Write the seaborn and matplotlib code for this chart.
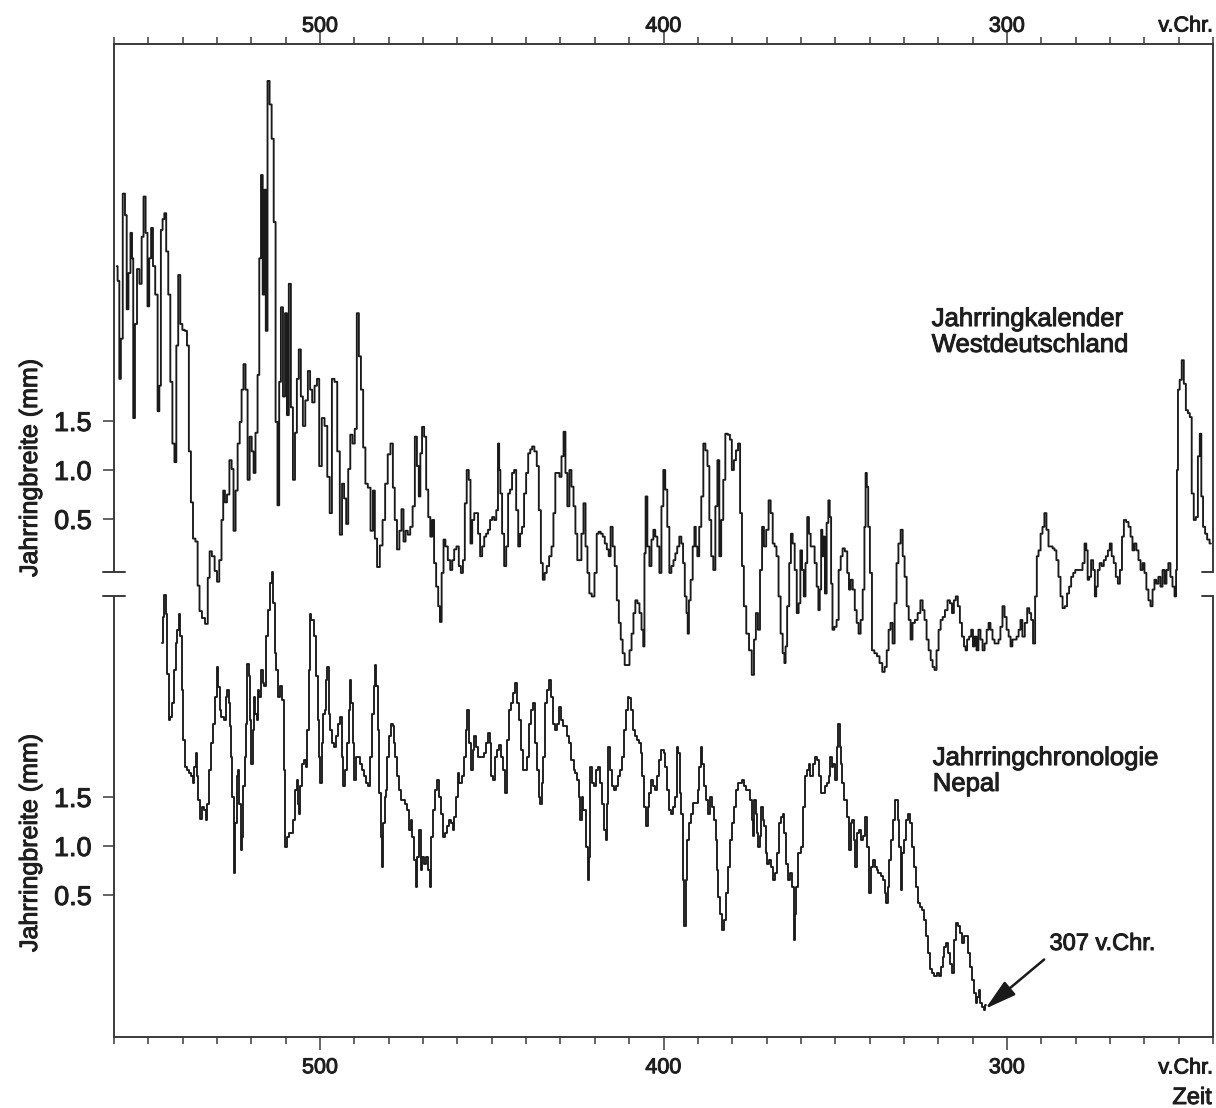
import numpy as np
import pandas as pd
import matplotlib
matplotlib.use("Agg")
import matplotlib.pyplot as plt
import matplotlib.transforms as mtransforms
import matplotlib.patheffects as pe
from matplotlib.lines import Line2D
import seaborn as sns

# ---------------- data ----------------
# Jahrringkalender Westdeutschland: year BC, ring width in mm (axis scale of the upper panel)
west_years = [
    559.2, 558.7, 558.2, 557.8, 557.1, 556.5, 556.1, 555.5, 554.9, 554.6, 554.2, 553.6, 553.0, 552.2,
    551.7, 551.1, 550.5, 550.0, 549.5, 548.9, 548.4, 547.6, 547.0, 546.6, 546.1, 545.6, 545.1, 544.5,
    543.9, 543.3, 542.7, 542.1, 541.6, 541.0, 540.4, 539.8, 539.0, 538.5, 537.9, 537.3, 536.7, 535.9,
    535.4, 534.8, 534.0, 533.0, 532.4, 531.9, 531.1, 530.3, 529.7, 529.0, 528.4, 528.0, 527.4, 526.8,
    526.0, 525.5, 524.9, 524.3, 523.7, 523.1, 522.6, 522.0, 521.4, 520.8, 520.2, 519.6, 519.1, 518.5,
    517.9, 517.5, 516.9, 516.5, 516.0, 515.6, 515.0, 514.4, 513.8, 513.2, 512.7, 512.1, 511.7, 511.1,
    510.5, 509.9, 509.4, 508.8, 508.2, 507.6, 507.0, 506.5, 505.9, 505.3, 504.7, 503.9, 503.2, 502.6,
    502.0, 501.2, 500.6, 499.9, 499.1, 498.3, 497.5, 496.9, 496.2, 495.4, 494.6, 493.9, 493.3, 492.7,
    492.1, 491.5, 490.9, 490.2, 489.6, 489.0, 488.4, 487.8, 487.1, 486.5, 485.7, 484.9, 484.3, 483.8,
    483.0, 482.2, 481.4, 480.7, 479.9, 479.1, 478.5, 478.0, 477.2, 476.6, 476.0, 475.4, 474.8, 474.1,
    473.4, 472.7, 472.1, 471.5, 471.0, 470.6, 470.0, 469.4, 468.8, 468.2, 467.6, 467.1, 466.5, 465.9,
    465.3, 464.9, 464.3, 463.8, 463.2, 462.4, 461.8, 461.2, 460.7, 459.9, 459.3, 458.7, 458.1, 457.6,
    457.0, 456.4, 456.0, 455.4, 454.8, 454.3, 453.7, 453.1, 452.5, 451.9, 451.4, 450.8, 450.2, 449.6,
    449.0, 448.4, 448.0, 447.7, 447.3, 446.7, 446.1, 445.5, 445.0, 444.4, 443.8, 443.2, 442.6, 442.0,
    441.5, 440.9, 440.3, 439.7, 439.1, 438.5, 438.0, 437.2, 436.6, 436.0, 435.4, 434.9, 434.3, 433.7,
    432.9, 432.3, 431.8, 431.2, 430.6, 430.0, 429.4, 428.8, 428.3, 427.7, 427.1, 426.5, 425.9, 425.4,
    424.8, 424.2, 423.6, 423.0, 422.4, 421.9, 421.3, 420.5, 419.7, 419.2, 418.6, 418.0, 417.4, 416.8,
    416.2, 415.7, 415.1, 414.5, 413.9, 413.3, 412.7, 412.2, 411.6, 411.0, 410.2, 409.6, 409.0, 408.5,
    407.9, 407.3, 406.7, 406.1, 405.7, 405.4, 405.0, 404.4, 403.8, 403.2, 402.7, 402.1, 401.5, 400.9,
    400.3, 399.8, 399.2, 398.6, 398.0, 397.4, 396.8, 396.3, 395.7, 395.1, 394.5, 394.1, 393.5, 393.1,
    392.8, 392.4, 391.8, 391.2, 390.8, 390.4, 389.9, 389.3, 388.7, 388.1, 387.5, 386.9, 386.4, 385.8,
    385.2, 384.6, 384.0, 383.5, 382.9, 382.3, 381.7, 380.9, 380.4, 379.8, 379.2, 378.6, 378.0, 377.4,
    376.9, 376.3, 375.5, 374.7, 373.9, 373.4, 372.8, 372.2, 371.6, 371.0, 370.5, 369.7, 369.1, 368.5,
    367.9, 367.4, 366.8, 366.2, 365.6, 365.0, 364.6, 364.3, 363.7, 363.1, 362.7, 362.1, 361.5, 360.9,
    360.4, 359.9, 359.4, 358.9, 358.4, 357.9, 357.4, 356.9, 356.3, 355.7, 355.1, 354.7, 354.3, 353.9,
    353.6, 353.2, 352.8, 352.2, 351.8, 351.4, 351.0, 350.6, 349.9, 349.3, 348.7, 348.1, 347.6, 346.8,
    346.2, 345.8, 345.2, 344.6, 344.0, 343.5, 342.9, 342.3, 341.7, 341.3, 341.0, 340.6, 340.2, 339.6,
    339.0, 338.2, 337.5, 336.7, 335.9, 335.3, 334.7, 334.2, 333.6, 333.0, 332.4, 331.9, 331.3, 330.6,
    330.1, 329.5, 328.9, 328.3, 327.8, 327.2, 326.4, 325.6, 324.8, 324.3, 323.7, 323.1, 322.5, 321.9,
    321.4, 320.8, 320.2, 319.6, 319.0, 318.4, 317.7, 316.9, 316.3, 315.7, 315.2, 314.6, 314.0, 313.4,
    312.8, 312.2, 311.9, 311.3, 310.7, 310.1, 309.7, 309.1, 308.6, 308.0, 307.4, 306.8, 306.2, 305.6,
    305.1, 304.5, 303.9, 303.3, 302.7, 302.2, 301.6, 301.0, 300.4, 299.8, 299.2, 298.7, 298.1, 297.5,
    296.9, 296.3, 295.8, 295.2, 294.4, 293.8, 293.2, 292.7, 292.1, 291.5, 291.1, 290.5, 289.9, 289.4,
    288.8, 288.2, 287.6, 287.0, 286.4, 285.9, 285.3, 284.7, 284.1, 283.5, 282.8, 282.2, 281.6, 281.0,
    280.4, 279.8, 279.1, 278.3, 277.7, 277.1, 276.7, 276.3, 275.8, 275.2, 274.6, 274.2, 273.8, 273.3,
    272.7, 272.1, 271.5, 270.9, 270.3, 269.8, 269.2, 268.6, 268.0, 267.4, 266.8, 266.2, 265.7, 264.9,
    264.3, 263.7, 263.2, 262.6, 262.0, 261.4, 260.8, 260.2, 259.7, 259.1, 258.5, 257.9, 257.3, 256.8,
    256.2, 255.6, 255.0, 254.4, 253.8, 253.3, 252.7, 252.1, 251.5, 250.9, 250.6, 250.4, 250.0, 249.4,
    248.8, 248.2, 247.6, 247.0, 246.5, 245.9, 245.3, 244.7, 244.1, 243.6, 243.2, 242.6, 242.0, 241.4,
    240.6,
]
west_mm = [
    3.08, 2.93, 1.93, 2.34, 3.82, 3.60, 2.64, 3.01, 3.42, 3.16, 1.53, 2.49, 3.05, 2.90,
    3.38, 3.79, 3.42, 2.67, 3.16, 3.47, 3.08, 2.79, 1.60, 1.86, 3.45, 3.56, 3.62, 3.23,
    2.79, 1.90, 1.27, 1.08, 2.27, 2.99, 2.49, 2.43, 2.42, 2.27, 1.19, 0.67, 0.30, 0.27,
    -0.18, -0.44, -0.51, -0.57, -0.10, 0.17, 0.12, -0.03, -0.14, 0.08, 0.49, 0.79, 0.67, 0.75,
    1.10, 1.01, 0.38, 0.79, 1.27, 1.49, 1.82, 2.08, 1.82, 0.90, 1.34, 1.19, 0.97, 1.38,
    1.97, 3.16, 4.01, 2.79, 3.86, 2.42, 4.97, 4.73, 4.38, 3.53, 1.49, 0.64, 1.90, 2.66,
    1.75, 2.60, 1.56, 2.90, 1.64, 0.90, 1.38, 1.93, 2.23, 1.75, 1.45, 1.71, 2.01, 1.82,
    1.69, 1.86, 1.93, 1.04, 1.53, 1.45, 0.93, 0.56, 1.93, 1.90, 1.19, 0.34, 0.86, 0.71,
    0.45, 1.01, 1.36, 1.27, 1.42, 2.60, 2.16, 1.82, 1.23, 0.86, 0.82, 0.38, 0.79, 0.30,
    0.01, 0.23, 0.49, 0.86, 1.16, 1.27, 0.82, 0.49, 0.19, 0.38, 0.60, 0.27, 0.38, 0.34,
    0.42, 0.63, 1.34, 1.04, 0.73, 1.17, 1.44, 1.34, 0.80, 0.52, 0.32, 0.49, 0.05, -0.19,
    -0.39, -0.55, -0.05, 0.29, 0.22, 0.08, -0.02, 0.08, 0.19, 0.22, 0.02, -0.05, 0.08, 0.66,
    1.00, 0.90, 0.25, 0.49, 0.56, 0.56, 0.35, 0.12, 0.22, 0.32, 0.35, 0.39, 0.49, 0.52,
    0.49, 0.59, 1.27, 1.00, 0.76, 0.35, 0.02, 0.22, 0.76, 0.80, 0.97, 1.00, 0.59, 0.22,
    0.35, 0.42, 0.76, 0.97, 1.17, 1.21, 1.24, 1.19, 1.04, 0.59, 0.05, -0.12, -0.05, 0.02,
    0.12, 0.22, 0.56, 0.97, 0.97, 0.93, 1.14, 1.39, 0.97, 0.63, 1.00, 0.83, 0.63, 0.35,
    0.08, 0.08, 0.35, 0.66, 0.22, -0.05, -0.26, -0.29, -0.05, 0.35, 0.37, 0.35, 0.32, 0.25,
    0.19, 0.12, 0.42, 0.22, 0.02, -0.33, -0.56, -0.73, -0.87, -0.99, -0.99, -0.84, -0.67, -0.46,
    -0.33, -0.36, -0.46, -0.63, -0.80, 0.15, 0.73, 0.22, 0.02, 0.29, 0.39, 0.32, 0.22, -0.05,
    0.63, 1.00, 0.80, 0.42, -0.05, 0.02, 0.08, 0.15, 0.22, 0.32, 0.25, 0.05, -0.29, -0.46,
    -0.67, -0.33, -0.12, 0.22, 0.42, 0.22, 0.12, 0.42, 0.73, 1.27, 1.20, 1.04, 0.49, 0.12,
    -0.02, 0.63, 1.10, 0.12, 0.49, 0.90, 1.37, 1.36, 1.31, 1.00, 1.10, 1.20, 1.27, 0.56,
    0.02, -0.39, -0.67, -0.84, -1.09, -0.73, -0.46, -0.63, -0.02, 0.42, 0.22, 0.39, 0.69, 0.56,
    0.25, 0.22, 0.12, -0.29, -0.67, -0.87, -0.97, -0.80, -0.39, 0.05, 0.35, 0.25, -0.02, -0.46,
    -0.36, 0.18, -0.02, -0.29, 0.05, 0.52, 0.35, 0.22, 0.22, 0.05, -0.19, -0.43, -0.22, 0.39,
    0.12, 0.32, -0.26, 0.46, 0.69, 0.52, -0.16, -0.63, -0.60, -0.53, -0.02, 0.12, 0.20, 0.17,
    -0.05, -0.22, -0.12, -0.22, -0.43, -0.56, -0.67, -0.53, -0.22, 0.42, 0.97, 0.83, 0.42, -0.05,
    -0.84, -0.87, -0.90, -0.97, -1.06, -1.01, -0.84, -0.63, -0.56, -0.77, -0.36, 0.05, 0.25, 0.39,
    0.12, -0.09, -0.39, -0.53, -0.73, -0.56, -0.53, -0.46, -0.33, -0.43, -0.53, -0.73, -0.84, -0.94,
    -1.01, -1.04, -0.84, -0.63, -0.53, -0.50, -0.43, -0.33, -0.36, -0.46, -0.33, -0.29, -0.39, -0.56,
    -0.70, -0.80, -0.84, -0.73, -0.70, -0.63, -0.80, -0.70, -0.84, -0.63, -0.73, -0.84, -0.77, -0.63,
    -0.56, -0.63, -0.73, -0.77, -0.77, -0.73, -0.60, -0.39, -0.50, -0.63, -0.70, -0.80, -0.73, -0.73,
    -0.70, -0.63, -0.53, -0.70, -0.56, -0.41, -0.46, -0.53, -0.77, -0.29, 0.12, 0.18, 0.35, 0.42,
    0.56, 0.39, 0.22, 0.22, 0.20, 0.18, 0.08, -0.09, -0.29, -0.41, -0.39, -0.26, -0.19, -0.09,
    -0.05, -0.02, -0.02, -0.02, 0.05, 0.25, 0.18, -0.12, -0.09, 0.08, -0.02, -0.29, -0.19, -0.02,
    0.05, 0.02, 0.08, 0.12, 0.18, 0.25, 0.12, 0.05, -0.09, -0.16, -0.02, 0.32, 0.49, 0.47,
    0.42, 0.32, 0.18, 0.25, 0.18, 0.08, -0.02, 0.05, -0.05, -0.22, -0.33, -0.39, -0.22, -0.12,
    -0.16, -0.09, -0.19, -0.02, -0.16, -0.02, 0.05, -0.09, -0.19, -0.29, -0.02, 1.00, 1.82, 1.92,
    2.12, 1.88, 1.61, 1.58, 1.54, 0.76, 0.49, 0.52, 1.14, 1.37, 0.73, 0.42, 0.35, 0.29,
    0.25,
]

# Jahrringchronologie Nepal: year BC, ring width in mm (axis scale of the lower panel)
nepal_years = [
    546.1, 545.6, 545.1, 544.7, 544.3, 543.9, 543.3, 542.7, 542.1, 541.8, 541.4, 541.0, 540.4, 540.0,
    539.6, 539.0, 538.5, 537.9, 537.3, 536.9, 536.3, 535.9, 535.6, 535.2, 534.8, 534.2, 533.6, 533.0,
    532.6, 532.1, 531.5, 530.9, 530.3, 529.9, 529.5, 529.0, 528.4, 527.8, 527.2, 526.8, 526.4, 526.0,
    525.7, 525.3, 524.9, 524.5, 524.1, 523.7, 523.3, 522.9, 522.6, 522.2, 521.8, 521.4, 521.0, 520.6,
    520.2, 519.8, 519.4, 519.1, 518.7, 518.3, 517.9, 517.5, 516.9, 516.5, 515.9, 515.4, 514.8, 514.2,
    513.8, 513.4, 513.0, 512.5, 511.9, 511.3, 510.7, 510.3, 509.9, 509.4, 508.8, 508.2, 507.6, 507.0,
    506.7, 506.3, 505.9, 505.5, 505.1, 504.5, 503.9, 503.5, 503.2, 502.8, 502.2, 501.6, 501.0, 500.4,
    500.1, 499.7, 499.3, 498.9, 498.5, 498.1, 497.7, 497.3, 496.8, 496.2, 495.6, 495.0, 494.4, 493.8,
    493.5, 493.1, 492.5, 491.9, 491.5, 491.1, 490.7, 490.4, 489.8, 489.2, 488.6, 488.0, 487.4, 486.9,
    486.3, 485.7, 485.1, 484.5, 484.1, 483.8, 483.4, 483.0, 482.6, 482.2, 481.8, 481.4, 481.0, 480.7,
    480.1, 479.5, 479.1, 478.7, 478.3, 477.9, 477.4, 476.8, 476.2, 475.6, 475.0, 474.4, 473.9, 473.3,
    472.9, 472.3, 471.9, 471.5, 470.9, 470.4, 470.0, 469.4, 468.8, 468.2, 467.9, 467.5, 466.9, 466.3,
    465.7, 465.1, 464.6, 464.0, 463.4, 462.8, 462.2, 461.6, 461.1, 460.7, 460.1, 459.7, 459.1, 458.5,
    457.9, 457.4, 456.8, 456.4, 455.8, 455.4, 454.9, 454.3, 453.7, 453.1, 452.5, 451.9, 451.4, 450.8,
    450.4, 449.8, 449.4, 448.8, 448.3, 447.7, 447.1, 446.5, 445.9, 445.3, 444.8, 444.2, 443.6, 443.0,
    442.4, 441.9, 441.3, 440.7, 440.1, 439.5, 438.9, 438.4, 437.8, 437.2, 436.6, 436.0, 435.7, 435.3,
    434.7, 434.1, 433.5, 433.0, 432.4, 431.8, 431.2, 430.6, 430.0, 429.4, 428.9, 428.3, 427.7, 427.1,
    426.5, 425.9, 425.4, 424.8, 424.4, 424.0, 423.6, 423.2, 422.6, 422.3, 421.9, 421.5, 421.1, 420.5,
    419.9, 419.4, 418.8, 418.2, 417.6, 417.0, 416.6, 416.3, 415.9, 415.3, 414.7, 414.1, 413.5, 413.0,
    412.4, 411.8, 411.2, 410.6, 410.0, 409.8, 409.2, 408.7, 408.1, 407.5, 406.9, 406.3, 406.0, 405.4,
    404.8, 404.4, 403.8, 403.2, 402.7, 402.1, 401.5, 400.9, 400.3, 399.7, 399.2, 398.6, 398.0, 397.4,
    397.0, 396.4, 395.9, 395.5, 395.1, 394.5, 394.1, 393.7, 393.3, 392.8, 392.2, 391.6, 391.0, 390.4,
    389.8, 389.3, 388.9, 388.5, 387.9, 387.3, 386.7, 386.2, 385.6, 385.0, 384.6, 384.2, 383.8, 383.2,
    382.7, 382.1, 381.5, 380.9, 380.3, 379.8, 379.2, 378.6, 378.0, 377.4, 376.9, 376.3, 375.7, 375.1,
    374.5, 374.1, 373.7, 373.4, 373.0, 372.6, 372.2, 371.8, 371.2, 370.8, 370.5, 370.1, 369.5, 368.9,
    368.3, 367.7, 367.2, 366.6, 366.2, 365.6, 365.0, 364.6, 364.1, 363.5, 362.9, 362.3, 361.9, 361.5,
    361.1, 360.8, 360.2, 359.6, 359.0, 358.4, 357.9, 357.5, 356.9, 356.3, 355.7, 355.1, 354.5, 354.0,
    353.4, 352.8, 352.2, 351.6, 351.2, 350.9, 350.5, 349.9, 349.3, 348.9, 348.5, 348.2, 347.6, 347.0,
    346.4, 345.8, 345.2, 344.8, 344.3, 343.9, 343.3, 342.7, 342.1, 341.6, 341.0, 340.4, 339.8, 339.2,
    338.8, 338.2, 337.7, 337.1, 336.5, 335.9, 335.3, 334.9, 334.6, 334.0, 333.4, 332.8, 332.2, 331.9,
    331.5, 331.1, 330.7, 330.3, 329.7, 329.1, 328.6, 328.0, 327.4, 326.8, 326.2, 325.6, 325.1, 324.5,
    323.9, 323.3, 322.7, 322.2, 321.6, 320.8, 320.2, 319.6, 319.0, 318.5, 317.9, 317.5, 316.9, 316.3,
    315.7, 315.2, 314.6, 314.0, 313.4, 312.8, 312.3, 311.7, 311.1, 310.5, 309.9, 309.3, 308.9, 308.4,
    308.0, 307.4, 307.0, 306.6, 306.2,
]
nepal_mm = [
    3.07, 3.34, 3.56, 3.37, 2.76, 2.29, 2.32, 2.46, 2.80, 3.07, 3.20, 3.37, 3.14, 2.59,
    2.08, 1.81, 1.78, 1.74, 1.71, 1.64, 1.81, 1.95, 1.71, 1.47, 1.28, 1.40, 1.37, 1.27,
    1.43, 1.78, 2.05, 2.25, 2.52, 2.83, 2.62, 2.39, 2.32, 2.29, 2.52, 2.59, 2.46, 2.22,
    1.91, 1.50, 0.72, 1.23, 1.71, 1.78, 1.43, 0.96, 1.09, 1.61, 1.91, 2.25, 2.86, 2.73,
    2.29, 1.84, 2.18, 2.52, 2.35, 2.29, 2.59, 2.52, 2.80, 2.66, 2.63, 3.14, 3.41, 3.68,
    3.80, 3.48, 2.97, 2.80, 2.52, 2.63, 2.49, 1.78, 0.99, 1.09, 1.13, 1.13, 1.27, 1.57,
    1.67, 1.43, 1.33, 1.61, 1.84, 1.88, 1.81, 2.18, 2.80, 3.37, 3.31, 3.14, 2.73, 2.29,
    1.91, 1.64, 2.05, 2.35, 2.39, 2.69, 2.83, 2.35, 2.18, 2.05, 2.01, 2.12, 2.25, 2.32,
    1.91, 1.61, 1.78, 2.05, 2.39, 2.69, 2.46, 2.05, 1.67, 1.91, 1.91, 1.84, 1.78, 1.71,
    1.64, 1.61, 1.91, 2.35, 2.63, 2.85, 2.63, 2.18, 1.54, 1.09, 0.79, 1.23, 1.50, 1.57,
    1.91, 2.12, 2.25, 2.22, 2.05, 1.91, 1.71, 1.57, 1.47, 1.47, 1.43, 1.37, 1.16, 1.27,
    1.09, 0.86, 0.58, 0.89, 1.16, 0.76, 0.89, 0.82, 0.89, 0.76, 0.58, 1.09, 1.37, 1.57,
    1.67, 1.50, 1.33, 1.09, 1.13, 1.20, 1.27, 1.23, 1.16, 1.30, 1.50, 1.74, 1.64, 1.71,
    1.91, 2.18, 2.39, 2.05, 1.78, 1.98, 2.12, 2.01, 1.91, 1.91, 1.91, 1.95, 2.05, 2.15,
    2.05, 1.71, 1.67, 1.91, 1.98, 2.03, 1.91, 1.78, 1.54, 2.08, 2.39, 2.46, 2.56, 2.66,
    2.46, 2.29, 1.98, 1.78, 1.78, 1.91, 2.25, 2.39, 2.46, 2.05, 1.78, 1.50, 1.43, 1.64,
    1.91, 2.46, 2.59, 2.69, 2.52, 2.25, 2.18, 2.25, 2.42, 2.29, 2.22, 2.22, 2.12, 2.05,
    1.88, 1.78, 1.74, 1.67, 1.50, 1.27, 1.50, 1.37, 1.37, 0.99, 0.65, 0.89, 1.81, 1.64,
    1.61, 1.78, 1.81, 1.64, 1.43, 1.16, 1.06, 1.43, 2.01, 1.78, 1.61, 1.57, 1.61, 1.71,
    1.78, 1.91, 2.18, 2.39, 2.52, 2.51, 2.39, 2.18, 2.12, 2.08, 2.05, 1.95, 1.71, 1.40,
    1.20, 1.40, 1.54, 1.67, 1.61, 1.57, 1.71, 1.88, 1.98, 1.95, 1.81, 1.57, 1.37, 1.33,
    1.40, 1.50, 2.01, 1.95, 1.54, 1.33, 0.65, 0.18, 0.65, 1.06, 1.23, 1.33, 1.44, 1.44,
    1.57, 1.81, 2.01, 1.84, 1.61, 1.47, 1.33, 1.50, 1.40, 1.27, 1.06, 0.76, 0.48, 0.31,
    0.14, 0.24, 0.52, 0.79, 1.06, 1.23, 1.40, 1.57, 1.64, 1.64, 1.67, 1.61, 1.57, 1.57,
    1.47, 1.27, 1.10, 1.47, 1.33, 1.13, 0.99, 1.10, 1.40, 1.27, 1.20, 0.93, 0.82, 0.86,
    0.79, 0.65, 0.72, 0.93, 1.23, 1.30, 1.33, 1.13, 0.82, 0.65, 0.72, 0.58, 0.04, 0.31,
    0.58, 0.93, 0.93, 0.99, 1.40, 1.71, 1.78, 1.84, 1.71, 1.84, 1.91, 1.88, 1.71, 1.54,
    1.54, 1.61, 1.64, 1.71, 1.91, 1.81, 1.84, 1.67, 2.01, 2.25, 2.01, 1.84, 1.64, 1.47,
    1.30, 0.96, 1.23, 1.27, 1.06, 0.79, 1.13, 1.16, 1.06, 1.10, 1.30, 0.99, 0.52, 0.79,
    0.86, 0.79, 0.76, 0.72, 0.69, 0.65, 0.52, 0.42, 0.58, 0.86, 1.06, 1.27, 1.47, 1.47,
    1.27, 0.99, 0.55, 0.93, 1.06, 1.27, 1.33, 1.23, 0.99, 0.79, 0.58, 0.42, 0.38, 0.35,
    0.24, 0.08, -0.09, -0.26, -0.30, -0.33, -0.30, -0.33, -0.23, -0.13, -0.03, 0.01, -0.09, -0.20,
    -0.30, 0.04, 0.21, 0.18, 0.11, 0.01, 0.08, 0.08, -0.09, -0.23, -0.37, -0.50, -0.60, -0.54,
    -0.47, -0.60, -0.64, -0.67, -0.62,
]

x_major = [500, 400, 300]
x_major_labels = ["500", "400", "300"]
y_tick_values = [0.5, 1.0, 1.5]
y_tick_labels = ["0.5", "1.0", "1.5"]

# ---------------- style ----------------
sns.set_theme(style="white")
plt.rcParams["font.family"] = ["Liberation Sans", "DejaVu Sans"]
ink = "#1a1a1a"
axis_col = "#3a3a3a"
txt_col = "#1e1e1e"
heavy = [pe.withStroke(linewidth=0.7, foreground=txt_col)]

W, H = 1216, 1108
fig = plt.figure(figsize=(W / 100, H / 100), dpi=100)
fig.patch.set_facecolor("white")
px_l, px_r, px_t, px_b = 114, 1213, 44, 1037
ax = fig.add_axes([px_l / W, 1 - px_b / H, (px_r - px_l) / W, (px_b - px_t) / H])
ax.set_facecolor("white")

px_per_mm = 98.0
nepal_zero_px = 944.0
west_zero_px = 568.0
west_offset = (nepal_zero_px - west_zero_px) / px_per_mm

df_w = pd.DataFrame({"Jahr": west_years, "Breite": np.array(west_mm) + west_offset})
df_n = pd.DataFrame({"Jahr": nepal_years, "Breite": nepal_mm})

sns.lineplot(data=df_w, x="Jahr", y="Breite", ax=ax, color=ink, lw=1.35,
             estimator=None, drawstyle="steps-mid")
sns.lineplot(data=df_n, x="Jahr", y="Breite", ax=ax, color=ink, lw=1.35,
             estimator=None, drawstyle="steps-mid")

ax.set_xlim(560, 240)
ax.set_ylim(-(px_b - nepal_zero_px) / px_per_mm, (nepal_zero_px - px_t) / px_per_mm)
ax.set_xlabel("")
ax.set_ylabel("")

# x axis: ticks on top and bottom
ax.set_xticks(x_major)
ax.set_xticks([v for v in range(240, 561, 10) if v not in x_major], minor=True)
ax.tick_params(axis="x", which="both", top=True, bottom=True, labeltop=True, labelbottom=True,
               direction="out", color=axis_col, width=1.1)
ax.tick_params(axis="x", which="major", length=9.5, labelsize=15.5, labelcolor=txt_col)
ax.tick_params(axis="x", which="minor", length=5)
ax.set_xticklabels(x_major_labels)
for t in ax.xaxis.get_major_ticks():
    t.set_pad(0)
    t.label1.set_path_effects(heavy)
    t.label2.set_path_effects(heavy)
# fine placement of the tick labels relative to the axis lines
bottom_shift = mtransforms.ScaledTranslation(0, -7 / 100, fig.dpi_scale_trans)
top_shift = mtransforms.ScaledTranslation(0, -6 / 100, fig.dpi_scale_trans)
for t in ax.xaxis.get_major_ticks():
    t.label1.set_transform(t.label1.get_transform() + bottom_shift)
    t.label2.set_transform(t.label2.get_transform() + top_shift)

# y axis: two scales
yt = list(y_tick_values) + [v + west_offset for v in y_tick_values]
ax.set_yticks(yt)
ax.set_yticklabels(y_tick_labels + y_tick_labels)
ax.tick_params(axis="y", left=True, right=False, direction="out", length=8, width=1.1,
               color=axis_col, labelsize=19.5, pad=8, labelcolor=txt_col)
for lab in ax.get_yticklabels():
    lab.set_path_effects(heavy)

for s in ["top", "bottom"]:
    ax.spines[s].set_color(axis_col)
    ax.spines[s].set_linewidth(1.4)
for s in ["left", "right"]:
    ax.spines[s].set_visible(False)

# broken side spines
tr = mtransforms.blended_transform_factory(ax.transAxes, ax.transData)
y0, y1 = ax.get_ylim()
brk_hi = (nepal_zero_px - 572) / px_per_mm
brk_lo = (nepal_zero_px - 596) / px_per_mm
dx = 11 / (px_r - px_l)
for xs in (0.0, 1.0):
    ax.add_line(Line2D([xs, xs], [brk_hi, y1], transform=tr, color=axis_col, lw=1.4, clip_on=False))
    ax.add_line(Line2D([xs, xs], [y0, brk_lo], transform=tr, color=axis_col, lw=1.4, clip_on=False))
for yb in (brk_hi, brk_lo):
    ax.add_line(Line2D([-dx, dx], [yb, yb], transform=tr, color=axis_col, lw=1.4, clip_on=False))
    ax.add_line(Line2D([1 - dx, 1.0], [yb, yb], transform=tr, color=axis_col, lw=1.4, clip_on=False))

# "v.Chr." at the right end of both time axes
ax.text(1.0, 1.0, "v.Chr.", ha="right", va="center", fontsize=15.5, color=txt_col,
        transform=ax.transAxes + mtransforms.ScaledTranslation(0, 18 / 100, fig.dpi_scale_trans),
        path_effects=heavy)
ax.text(1.0, 0.0, "v.Chr.", ha="right", va="center", fontsize=15.5, color=txt_col,
        transform=ax.transAxes + mtransforms.ScaledTranslation(0, -31 / 100, fig.dpi_scale_trans),
        path_effects=heavy)

# axis titles
fig.text(30 / W, 1 - 468 / H, "Jahrringbreite (mm)", rotation=90, ha="center", va="center",
         fontsize=18, color=txt_col, path_effects=heavy)
fig.text(30 / W, 1 - 843 / H, "Jahrringbreite (mm)", rotation=90, ha="center", va="center",
         fontsize=18, color=txt_col, path_effects=heavy)
fig.text(1212 / W, 1 - 1098 / H, "Zeit", ha="right", va="center", fontsize=17, color=txt_col,
         path_effects=heavy)

# series labels
ax.text(321.9, (nepal_zero_px - 332) / px_per_mm, "Jahrringkalender\nWestdeutschland",
        ha="left", va="center", fontsize=18.5, linespacing=1.1, color=txt_col, path_effects=heavy)
ax.text(321.6, (nepal_zero_px - 771) / px_per_mm, "Jahrringchronologie\nNepal",
        ha="left", va="center", fontsize=18.5, linespacing=1.1, color=txt_col, path_effects=heavy)

# annotation at the minimum of the Nepal chronology
i_min = int(np.argmin(nepal_mm))
ax.annotate("307 v.Chr.", xy=(nepal_years[i_min], nepal_mm[i_min]),
            xytext=(287.6, (nepal_zero_px - 944) / px_per_mm), textcoords="data",
            ha="left", va="center", fontsize=17, color=txt_col, path_effects=heavy,
            arrowprops=dict(arrowstyle="-|>,head_length=0.8,head_width=0.22", color=ink, lw=1.8,
                            mutation_scale=24, shrinkA=2, shrinkB=1, relpos=(0.0, 0.0)))

fig.savefig("out.png", dpi=100, facecolor="white")
